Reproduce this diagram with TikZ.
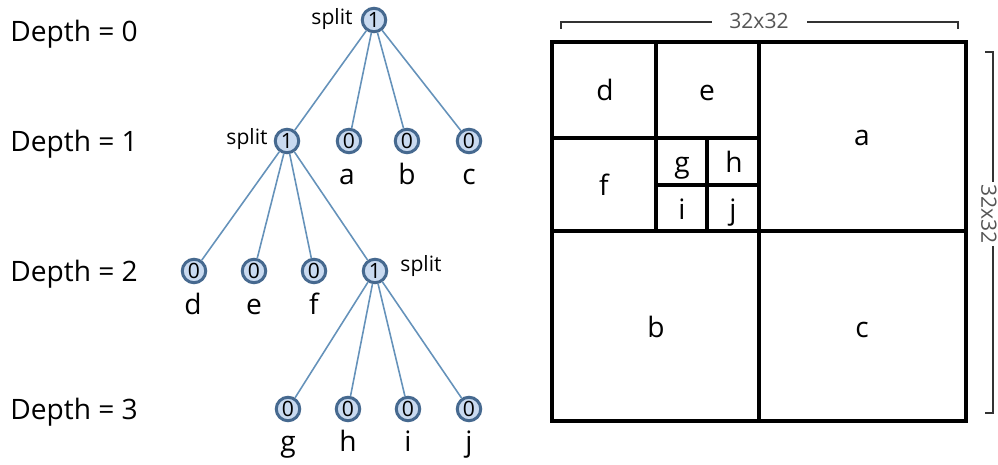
\documentclass[tikz,border=0pt]{standalone}
\usepackage{fontspec}
\setmainfont{Open Sans}
\usepackage{tikz}
\definecolor{nodefill}{HTML}{C9DAF0}
\definecolor{nodeline}{HTML}{46698F}
\definecolor{edgeline}{HTML}{6592BA}
\definecolor{dimline}{HTML}{333333}
\definecolor{dimtext}{HTML}{555555}

\begin{document}
\begin{tikzpicture}[
                x=0.02cm, y=-0.02cm,
                qnode/.style={draw=nodeline, line width=1.7pt, fill=nodefill, circle, minimum size=0.47cm, inner sep=0pt, font=\fontsize{12}{12}\selectfont},
                tag/.style={font=\fontsize{16}{16}\selectfont, anchor=base},
                splittag/.style={font=\fontsize{12}{12}\selectfont},
                depthtag/.style={font=\fontsize{16}{16}\selectfont, anchor=base west, inner sep=0pt},
                dimtag/.style={font=\fontsize{12}{12}\selectfont, text=dimtext, inner sep=0pt},
                edgeline/.style={draw=edgeline, line width=0.9pt},
                box/.style={line width=2.1pt},
                dim/.style={draw=dimline, line width=1.1pt}
            ]
            \useasboundingbox (0,0) rectangle (998,465);

            % Depth labels
            \node[depthtag] (dep0) at (10, 42) {Depth = 0};
            \node[depthtag] (dep1) at (10, 152) {Depth = 1};
            \node[depthtag] (dep2) at (10, 282) {Depth = 2};
            \node[depthtag] (dep3) at (10, 420) {Depth = 3};

            % Nodes
            \node[qnode] (root) at (374, 20) {1};
            \node[qnode] (s1) at (287, 141) {1};
            \node[qnode] (na) at (349, 141) {0};
            \node[qnode] (nb) at (407, 141) {0};
            \node[qnode] (nc) at (469, 141) {0};
            \node[qnode] (nd) at (194, 271) {0};
            \node[qnode] (ne) at (254, 271) {0};
            \node[qnode] (nf) at (314, 271) {0};
            \node[qnode] (s2) at (375, 271) {1};
            \node[qnode] (ng) at (288, 409) {0};
            \node[qnode] (nh) at (348, 409) {0};
            \node[qnode] (ni) at (408, 409) {0};
            \node[qnode] (nj) at (469, 409) {0};

            % Split labels
            \node[splittag] (sp0) at (332, 19) {split};
            \node[splittag] (sp1) at (247, 139) {split};
            \node[splittag] (sp2) at (421, 266) {split};

            % Leaf labels
            \node[tag] (la) at (347, 185) {a};
            \node[tag] (lb) at (407, 185) {b};
            \node[tag] (lc) at (469, 185) {c};
            \node[tag] (ld) at (193, 315) {d};
            \node[tag] (le) at (254, 315) {e};
            \node[tag] (lf) at (314, 315) {f};
            \node[tag] (lg) at (288, 452) {g};
            \node[tag] (lh) at (348, 452) {h};
            \node[tag] (li) at (408, 452) {i};
            \node[tag] (lj) at (469, 452) {j};

            % Edges
            \foreach \c in {s1, na, nb, nc}
                \draw[edgeline] (root) -- (\c);
            \foreach \c in {nd, ne, nf, s2}
                \draw[edgeline] (s1) -- (\c);
            \foreach \c in {ng, nh, ni, nj}
                \draw[edgeline] (s2) -- (\c);

            % Quadtree block
            \draw[box] (552, 42) rectangle (966, 421);
            \draw[box] (759, 42) -- (759, 421);
            \draw[box] (552, 231) -- (966, 231);
            \draw[box] (656, 42) -- (656, 231);
            \draw[box] (552, 138) -- (759, 138);
            \draw[box] (707, 138) -- (707, 231);
            \draw[box] (656, 185) -- (759, 185);

            % Block labels
            \node[tag] (bd) at (605, 101) {d};
            \node[tag] (be) at (707, 101) {e};
            \node[tag] (ba) at (862, 146) {a};
            \node[tag] (bf) at (604, 196) {f};
            \node[tag] (bg) at (682, 173) {g};
            \node[tag] (bh) at (734, 173) {h};
            \node[tag] (bi) at (682, 220) {i};
            \node[tag] (bj) at (733, 220) {j};
            \node[tag] (bb) at (656, 338) {b};
            \node[tag] (bc) at (862, 338) {c};

            % Size marks
            \node[dimtag] (dimtop) at (759, 21) {32x32};
            \node[dimtag, rotate=-90] (dimright) at (989, 214) {32x32};
            \draw[dim] (561, 29) -- (561, 22) -- (712, 22);
            \draw[dim] (807, 22) -- (958, 22) -- (958, 29);
            \draw[dim] (985, 52) -- (993, 52) -- (993, 182);
            \draw[dim] (993, 246) -- (993, 413) -- (985, 413);

            \end{tikzpicture}
\end{document}
